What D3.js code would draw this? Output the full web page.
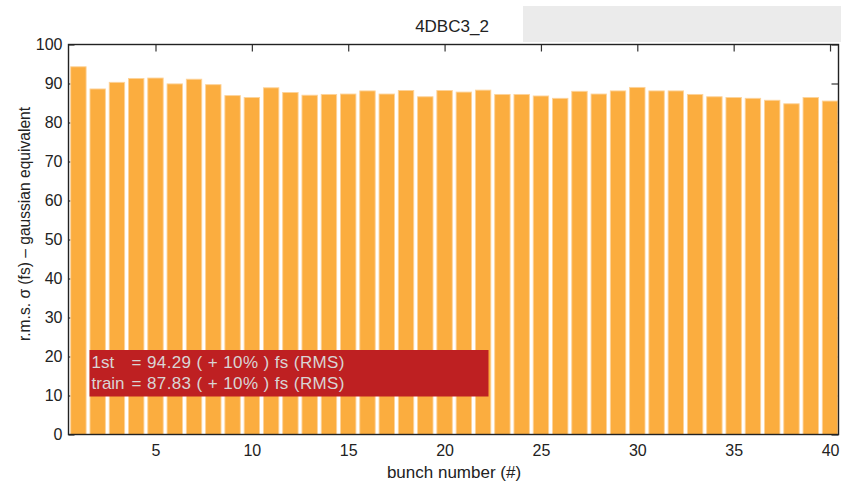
<!DOCTYPE html>
<html>
<head>
<meta charset="utf-8">
<script src="https://cdn.jsdelivr.net/npm/d3@7"></script>
<style>
  html, body { margin: 0; padding: 0; background: #fff; }
  svg { display: block; font-family: "Liberation Sans", Arial, Helvetica, sans-serif; }
</style>
</head>
<body>
<svg id="chart" width="841" height="481"></svg>
<script>
// Bunch-resolved r.m.s. bunch length (gaussian equivalent), one bar per bunch
const bunches = d3.range(1, 41);
const rmsFs = [
  94.29, 88.6, 90.3, 91.3, 91.4, 89.9, 91.1, 89.7, 86.9, 86.4,
  88.9, 87.7, 87.0, 87.2, 87.3, 88.1, 87.3, 88.2, 86.6, 88.2,
  87.8, 88.3, 87.2, 87.2, 86.8, 86.2, 88.0, 87.3, 88.1, 89.0,
  88.1, 88.1, 87.2, 86.6, 86.4, 86.2, 85.7, 84.8, 86.4, 85.5
];
const xTicks = [5, 10, 15, 20, 25, 30, 35, 40];
const yTicks = [0, 10, 20, 30, 40, 50, 60, 70, 80, 90, 100];
const titleText = "4DBC3_2";
const xLabel = "bunch number (#)";
const yLabel = "r.m.s. \u03c3 (fs) \u2013 gaussian equivalent";
const legendNames = ["1st", "train"];
const legendValues = ["= 94.29 ( + 10% ) fs (RMS)", "= 87.83 ( + 10% ) fs (RMS)"];

(function draw() {
  const svg = d3.select("#chart");
  const pLeft = 68.5, pRight = 838.5, pTop = 44.5, pBottom = 434.5;

  const x = d3.scaleLinear().domain([0.486, 40.44]).range([pLeft, pRight]);
  const y = d3.scaleLinear().domain([0, 100]).range([pBottom, pTop]);
  const barW = (x(2) - x(1)) * 0.8;

  // header strip and title
  svg.append("rect").attr("x", 523).attr("y", 6).attr("width", 318).attr("height", 36)
    .attr("fill", "#ebebeb");
  svg.append("text").attr("x", 452).attr("y", 31.5).attr("text-anchor", "middle")
    .attr("font-size", 17).attr("fill", "#222").text(titleText);

  // axes with inward ticks
  function styleAxis(g) {
    g.selectAll(".domain").remove();
    g.selectAll("line").attr("stroke", "#333").attr("stroke-width", 1.2);
    g.selectAll("text").attr("fill", "#222").attr("font-size", 16)
      .attr("font-family", "Liberation Sans, Arial, sans-serif");
  }
  svg.append("g").attr("transform", `translate(${pLeft},0)`)
    .call(d3.axisLeft(y).tickValues(yTicks).tickSizeInner(-6).tickSizeOuter(0).tickPadding(6))
    .call(styleAxis);
  svg.append("g").attr("transform", `translate(${pRight},0)`)
    .call(d3.axisRight(y).tickValues(yTicks).tickSizeInner(-7).tickSizeOuter(0).tickFormat(""))
    .call(styleAxis);
  svg.append("g").attr("transform", `translate(0,${pTop})`)
    .call(d3.axisTop(x).tickValues(xTicks).tickSizeInner(-7).tickSizeOuter(0).tickFormat(""))
    .call(styleAxis);
  svg.append("g").attr("transform", `translate(0,${pBottom})`)
    .call(d3.axisBottom(x).tickValues(xTicks).tickSizeInner(-6).tickSizeOuter(0).tickPadding(10))
    .call(styleAxis);

  // bars
  svg.append("g").selectAll("rect").data(bunches).join("rect")
    .attr("x", d => x(d) - barW / 2)
    .attr("y", (d, i) => y(rmsFs[i]))
    .attr("width", barW)
    .attr("height", (d, i) => y(0) - y(rmsFs[i]))
    .attr("fill", "#fbad3f")
    .attr("stroke", "#fdd39a")
    .attr("stroke-width", 0.9);

  // plot frame
  svg.append("rect").attr("x", pLeft).attr("y", pTop)
    .attr("width", pRight - pLeft).attr("height", pBottom - pTop)
    .attr("fill", "none").attr("stroke", "#222").attr("stroke-width", 1.4);

  // summary box
  const lg = svg.append("g");
  lg.append("rect").attr("x", 89.5).attr("y", 350).attr("width", 399).attr("height", 46.5)
    .attr("fill", "#be2022");
  legendNames.forEach((n, i) => {
    const by = 368 + i * 20.5;
    lg.append("text").attr("x", 91.5).attr("y", by).attr("font-size", 17)
      .attr("fill", "#d9d4d4").text(n);
    lg.append("text").attr("x", 131.5).attr("y", by).attr("font-size", 17)
      .attr("fill", "#d9d4d4").attr("textLength", 213).attr("lengthAdjust", "spacing")
      .text(legendValues[i]);
  });

  // axis titles
  svg.append("text").attr("x", 454).attr("y", 477.5).attr("text-anchor", "middle")
    .attr("font-size", 17).attr("fill", "#222").text(xLabel);
  svg.append("text").attr("transform", "translate(29.5,224) rotate(-90)")
    .attr("text-anchor", "middle").attr("font-size", 15.6).attr("fill", "#222").text(yLabel);
})();
</script>
</body>
</html>
